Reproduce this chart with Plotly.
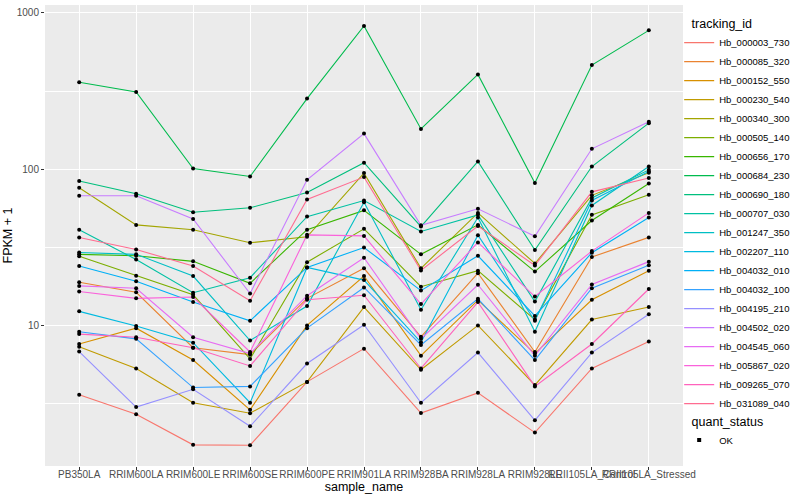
import plotly.graph_objects as go

samples = ["PB350LA", "RRIM600LA", "RRIM600LE", "RRIM600SE", "RRIM600PE",
           "RRIM901LA", "RRIM928BA", "RRIM928LA", "RRIM928LE",
           "RRII105LA_Control", "RRII105LA_Stressed"]

hb_000003_730 = [3.6, 2.7, 1.72, 1.71, 4.35, 7.1, 2.75, 3.7, 2.06, 5.3, 7.9]
hb_000085_320 = [18.9, 16.3, 7.2, 6.5, 14.9, 23.2, 8.45, 21.6, 6.76, 27.4, 36.6]
hb_000152_550 = [7.6, 9.6, 6.0, 2.88, 10.0, 20.7, 6.4, 14.5, 6.6, 14.6, 22.4]
hb_000230_540 = [7.3, 5.3, 3.2, 2.74, 4.35, 13.1, 5.2, 10.0, 4.15, 10.9, 13.1]
hb_000340_300 = [76, 44, 41, 33.8, 36.9, 94.4, 23.2, 52.5, 24.9, 68, 95]
hb_000505_140 = [27.7, 20.8, 15.7, 6.1, 25.4, 41.5, 17.7, 22.4, 10.9, 51, 68.6]
hb_000656_170 = [28.5, 27.9, 25.7, 18.6, 41, 54.5, 28.5, 44, 22.1, 46.9, 81]
hb_000684_230 = [360, 312, 101, 89.8, 283, 826, 181, 404, 81.5, 464, 774]
hb_000690_180 = [84, 69.7, 53, 56.6, 71, 110, 42.9, 112, 30.4, 104, 197]
hb_000707_030 = [41, 26.4, 16.2, 20.2, 49.7, 63, 39.9, 51, 14.2, 65.5, 99]
hb_001247_350 = [29.3, 28.5, 20.7, 8.0, 13.3, 61.5, 12.6, 49, 9.1, 58.6, 104]
hb_002207_110 = [12.3, 9.9, 7.75, 3.2, 23.5, 19.5, 7.8, 37.8, 10.7, 63, 96.5]
hb_004032_010 = [24, 19.2, 14.1, 10.7, 23.5, 31.5, 16.7, 27.9, 11.5, 29.2, 49]
hb_004032_100 = [9.1, 8.2, 4.0, 4.07, 9.6, 17.5, 7.5, 14.8, 6.0, 17.3, 24.3]
hb_004195_210 = [6.8, 3.0, 3.9, 2.26, 5.7, 10.1, 3.2, 6.7, 2.47, 6.7, 11.8]
hb_004502_020 = [67.6, 67.6, 48, 16, 85.5, 169, 43.7, 55.8, 37.2, 135, 201]
hb_004545_060 = [17.9, 17.3, 8.4, 6.6, 15.5, 27.1, 8.2, 18.2, 6.4, 18.3, 25.6]
hb_005867_020 = [16.5, 14.9, 15.2, 6.76, 38, 37.4, 13.7, 34, 15.3, 29.9, 52.5]
hb_009265_070 = [8.8, 8.4, 7.2, 5.5, 14.6, 15.6, 5.3, 14.1, 4.07, 7.6, 17.1]
hb_031089_040 = [36.5, 30.6, 24, 14.4, 64, 89, 22.5, 43.3, 24.2, 71.6, 87.7]

tracking_ids = ["Hb_000003_730", "Hb_000085_320", "Hb_000152_550", "Hb_000230_540",
                "Hb_000340_300", "Hb_000505_140", "Hb_000656_170", "Hb_000684_230",
                "Hb_000690_180", "Hb_000707_030", "Hb_001247_350", "Hb_002207_110",
                "Hb_004032_010", "Hb_004032_100", "Hb_004195_210", "Hb_004502_020",
                "Hb_004545_060", "Hb_005867_020", "Hb_009265_070", "Hb_031089_040"]
series_values = [hb_000003_730, hb_000085_320, hb_000152_550, hb_000230_540,
                 hb_000340_300, hb_000505_140, hb_000656_170, hb_000684_230,
                 hb_000690_180, hb_000707_030, hb_001247_350, hb_002207_110,
                 hb_004032_010, hb_004032_100, hb_004195_210, hb_004502_020,
                 hb_004545_060, hb_005867_020, hb_009265_070, hb_031089_040]
colors = ["#F8766D", "#EA8331", "#D89000", "#C09B00", "#A3A500", "#7CAE00",
          "#39B600", "#00BB4E", "#00BF7D", "#00C1A3", "#00BFC4", "#00BAE0",
          "#00B0F6", "#35A2FF", "#9590FF", "#C77CFF", "#E76BF3", "#FA62DB",
          "#FF62BC", "#FF6C91"]

y_tick_vals = [10, 100, 1000]
y_tick_text = ["10", "100", "1000"]

FONT = "Liberation Sans, Arial, sans-serif"

fig = go.Figure()
for name, vals, col in zip(tracking_ids, series_values, colors):
    fig.add_trace(go.Scatter(x=samples, y=vals, mode="lines", name=name,
                             line=dict(color=col, width=1.1), legend="legend"))
for name, vals in zip(tracking_ids, series_values):
    fig.add_trace(go.Scatter(x=samples, y=vals, mode="markers", showlegend=False,
                             marker=dict(color="black", size=4, symbol="circle"),
                             hoverinfo="skip"))
fig.add_trace(go.Scatter(x=[None], y=[None], mode="markers", name="OK",
                         marker=dict(color="black", size=4, symbol="square"),
                         legend="legend2"))

fig.update_layout(
    width=800, height=500,
    margin=dict(l=45, r=117, t=5, b=34, autoexpand=False),
    paper_bgcolor="white", plot_bgcolor="#EBEBEB",
    font=dict(family=FONT, color="black"),
    xaxis=dict(type="category", range=[-0.6, 10.6], tickangle=0,
               showgrid=True, gridcolor="white", gridwidth=1.1,
               ticks="outside", ticklen=3, tickcolor="#333333",
               ticklabelstandoff=-4,
               tickfont=dict(size=10, color="#4D4D4D"),
               title=dict(text="sample_name", font=dict(size=12.5), standoff=0),
               zeroline=False, showline=False),
    yaxis=dict(type="log", range=[0.1, 3.051],
               tickvals=y_tick_vals, ticktext=y_tick_text,
               showgrid=True, gridcolor="white", gridwidth=1.1,
               ticks="outside", ticklen=3, tickcolor="#333333",
               tickfont=dict(size=10, color="#4D4D4D"),
               title=dict(text="FPKM + 1", font=dict(size=12.5), standoff=1),
               minor=dict(tickvals=[10 ** 0.5, 10 ** 1.5, 10 ** 2.5], showgrid=True,
                          gridcolor="white", gridwidth=0.5, ticklen=0),
               zeroline=False, showline=False),
    legend=dict(title=dict(text="\u00a0\u00a0\u00a0tracking_id", font=dict(size=12.5)),
                font=dict(size=9.5), x=0.994, xanchor="left", y=0.985, yanchor="top",
                bgcolor="rgba(0,0,0,0)", itemwidth=30, tracegroupgap=0),
    legend2=dict(title=dict(text="\u00a0\u00a0\u00a0quant_status", font=dict(size=12.5)),
                 font=dict(size=9.5), x=0.994, xanchor="left", y=0.123, yanchor="top",
                 bgcolor="rgba(0,0,0,0)", itemwidth=30),
    showlegend=True,
)

fig.write_html("out.html", config={"displayModeBar": False},
               post_script="document.body.style.margin='0px';")
